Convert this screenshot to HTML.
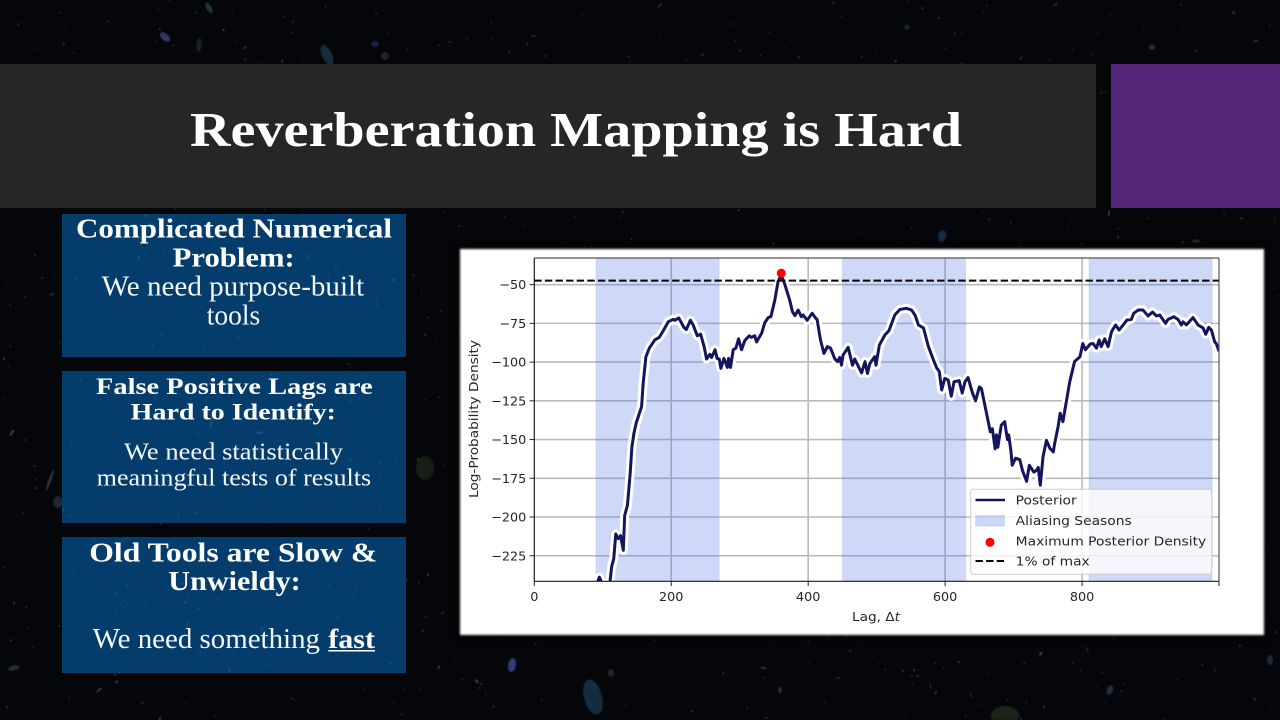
<!DOCTYPE html>
<html lang="en">
<head>
<meta charset="utf-8">
<title>Reverberation Mapping is Hard</title>
<style>
html,body{margin:0;padding:0;width:1280px;height:720px;overflow:hidden;background:#04060a;}
#slide{position:relative;width:1280px;height:720px;overflow:hidden;background:#04060a;}
#slide>*{position:absolute;}
.bar{left:0;top:64px;width:1096px;height:144px;background:#262626;}
.accent{left:1111px;top:64px;width:169px;height:144px;background:#54267a;}
.panel{left:62px;width:344px;background:rgba(4,64,112,.96);}
.paper-shadow{left:458px;top:247px;width:808px;height:390px;background:#000;filter:blur(4px);}
.paper{left:460px;top:249px;width:804px;height:386px;background:#fff;filter:blur(1px);}
svg{left:0;top:0;}
.h{font-family:"Liberation Serif",serif;font-weight:bold;fill:#fff;}
.r{font-family:"Liberation Serif",serif;fill:#f4f7fa;}
.c{font-family:"DejaVu Sans",sans-serif;fill:#262626;font-size:12.8px;}
</style>
</head>
<body>
<div id="slide">
  <svg id="starfield" width="1280" height="720" style="filter:blur(0.4px)"></svg>
  <div class="bar"></div>
  <div class="accent"></div>
  <div class="panel" style="top:214px;height:143px"></div>
  <div class="panel" style="top:371px;height:152px"></div>
  <div class="panel" style="top:537px;height:136px"></div>
  <svg id="panel-texture" width="1280" height="720" style="filter:blur(0.6px)"></svg>
  <div class="paper-shadow"></div>
  <div class="paper"></div>

  <svg width="1280" height="720">
    <text class="h" x="190" y="146" font-size="49" textLength="772" lengthAdjust="spacingAndGlyphs">Reverberation Mapping is Hard</text>

    <text class="h" x="76" y="237.5" font-size="27.5" textLength="316" lengthAdjust="spacingAndGlyphs">Complicated Numerical</text>
    <text class="h" x="172.7" y="266.5" font-size="27.5" textLength="122" lengthAdjust="spacingAndGlyphs">Problem:</text>
    <text class="r" x="101.7" y="295.5" font-size="28" textLength="262.5" lengthAdjust="spacingAndGlyphs">We need purpose-built</text>
    <text class="r" x="206.7" y="324.5" font-size="28" textLength="53.5" lengthAdjust="spacingAndGlyphs">tools</text>

    <text class="h" x="96" y="394" font-size="23.5" textLength="276.7" lengthAdjust="spacingAndGlyphs">False Positive Lags are</text>
    <text class="h" x="130.7" y="419.5" font-size="23.5" textLength="205.3" lengthAdjust="spacingAndGlyphs">Hard to Identify:</text>
    <text class="r" x="124" y="459.5" font-size="24" textLength="219" lengthAdjust="spacingAndGlyphs">We need statistically</text>
    <text class="r" x="96.7" y="485.5" font-size="24" textLength="274.5" lengthAdjust="spacingAndGlyphs">meaningful tests of results</text>

    <text class="h" x="89.3" y="561.7" font-size="27.5" textLength="288" lengthAdjust="spacingAndGlyphs">Old Tools are Slow &amp;</text>
    <text class="h" x="168.3" y="590" font-size="27.5" textLength="132.4" lengthAdjust="spacingAndGlyphs">Unwieldy:</text>
    <text class="r" x="92.7" y="647.8" font-size="28" textLength="227.3" lengthAdjust="spacingAndGlyphs">We need something</text>
    <text class="h" x="328.3" y="647.8" font-size="27.5" textLength="46.7" lengthAdjust="spacingAndGlyphs">fast</text>
    <rect x="328.3" y="650" width="46.7" height="1.5" fill="#fff"></rect>
  </svg>

  <svg id="chart" width="1280" height="720" style="filter:blur(0.3px)">
    <defs>
      <clipPath id="plot-clip"><rect x="534.3" y="258" width="684.7" height="323.3"></rect></clipPath>
    </defs>
    <g id="grid-layer"></g>
    <g id="season-layer" clip-path="url(#plot-clip)"></g>
    <g id="halo-layer" clip-path="url(#plot-clip)"></g>
    <g id="series-layer" clip-path="url(#plot-clip)"></g>
    <g id="axis-layer"></g>
    <text class="c" x="852" y="621" textLength="48" lengthAdjust="spacingAndGlyphs">Lag, Δ<tspan font-style="italic">t</tspan></text>
    <text class="c" transform="translate(478,498) rotate(-90)" textLength="158" lengthAdjust="spacingAndGlyphs">Log-Probability Density</text>

    <g>
      <rect x="970.7" y="489.3" width="241" height="85" rx="2.5" fill="#fff" fill-opacity=".8" stroke="#ccc" stroke-width="1"></rect>
      <line x1="975.5" x2="1005" y1="500" y2="500" stroke="#14145f" stroke-width="2.6"></line>
      <text class="c" x="1015.7" y="504.5" textLength="61" lengthAdjust="spacingAndGlyphs">Posterior</text>
      <rect x="975.7" y="515.7" width="28.6" height="10.3" fill="#4169e1" fill-opacity=".27" stroke="#4169e1" stroke-opacity=".2"></rect>
      <text class="c" x="1015.7" y="525" textLength="116" lengthAdjust="spacingAndGlyphs">Aliasing Seasons</text>
      <circle cx="990" cy="542.3" r="4.5" fill="#f00"></circle>
      <text class="c" x="1015.7" y="545.5" textLength="190.5" lengthAdjust="spacingAndGlyphs">Maximum Posterior Density</text>
      <line x1="975.5" x2="1005" y1="561" y2="561" stroke="#000" stroke-width="2" stroke-dasharray="7.4 3.2"></line>
      <text class="c" x="1015.7" y="565.5" textLength="74" lengthAdjust="spacingAndGlyphs">1% of max</text>
    </g>
  </svg>
</div>

<script>
var xTicks = [0, 200, 400, 600, 800, 1000];
var xTickLabels = ['0', '200', '400', '600', '800', ''];
var yTicks = [-50, -75, -100, -125, -150, -175, -200, -225];
var yTickLabels = ['\u221250', '\u221275', '\u2212100', '\u2212125', '\u2212150', '\u2212175', '\u2212200', '\u2212225'];
var seasonStarts = [90, 450, 810];
var seasonEnds = [270, 630, 990];
var maxLag = [360.7];
var maxDensity = [-42.6];
var thresholdValue = [-47.4];
var posteriorLag = [88,91,92.5,95,98,100,108,110.5,113,116,119,122.6,126,130,132,136,140,142.5,145.5,149,156.7,159,163,168,176,182.5,189,195.6,203,205,211,218.5,222,228,232,238,243,248,251.6,256.4,259,264,267,270,272.5,277,282,283.7,286.6,290.5,294.4,298.3,302.7,307.5,314,317,322,324.6,332,336.7,341.6,345.5,351.3,356,360.6,366,373,377,380.5,385.4,390,392.7,398.5,405.8,411,413,418,423,428,432.7,439,443,446,448.7,451,458.4,464.7,468,478,483,486.6,490,497.3,499,504,512,518,526.5,534,543.6,551,556,561,568.4,575.6,583,588,591.4,595,599.5,604.5,609,613,620.5,625,629,633.5,640,644.4,650,653,660,666,669,673,675,677,682,687,691,692.9,696,698,703,709,713,719,723,729.5,733,736,739,743,748,753,758,760,765,768,772,777,782,789,797,801,805,812,816,821,825,828,833,838,843,849,854,860,865.6,872,875.4,882,889,896.4,903,908.5,913.4,922,925.5,934,940,945,947.5,952.4,962,969.4,976.7,980.6,985,988.9,993.7,996,1000];
var posteriorValue = [-262,-250,-242,-238.8,-242,-250,-250,-242,-232,-227,-211,-214,-212,-221.5,-199,-192.5,-172,-155,-146,-139,-128.8,-113.7,-96.5,-91,-85.7,-84,-79.3,-74,-72.4,-73,-71.5,-77.6,-79,-73,-76,-83,-82,-90,-98,-95,-97,-92,-97.6,-98,-104,-97.6,-103.4,-97.6,-103.4,-92,-91,-85,-92,-86,-83,-84,-83,-87,-81.4,-74.5,-71.3,-70.7,-60,-48,-43.8,-50,-60,-67.4,-70,-66.4,-70.7,-69.6,-73,-68.5,-71.7,-72.4,-85.7,-94.4,-90,-91,-98,-99.7,-97,-102,-95.4,-90.5,-102,-98,-107,-99.7,-107.3,-101,-96.5,-102,-89,-82.5,-79.7,-69.6,-66,-65.3,-66.4,-69.6,-76,-78,-90,-98.7,-104,-106,-118,-110.5,-111.6,-122,-112.7,-112,-120,-112.7,-110,-120,-125,-116,-117,-132,-145,-143,-156,-147,-155,-140.7,-138.5,-150,-147,-157,-166.6,-162,-163,-170,-177,-166.6,-171,-170,-168,-179.5,-161,-150.5,-155.7,-158,-152.5,-141.7,-133,-138.5,-125.6,-112.7,-99.7,-96.5,-88,-92,-88.3,-88,-91,-85.7,-90,-85,-90,-80.4,-76,-79.3,-76,-72.8,-72.4,-68.5,-66.4,-66.4,-70.2,-67.7,-70.2,-69.6,-75,-72.4,-70.7,-72.4,-76,-74,-76,-71.3,-76,-78,-82,-77.6,-79.3,-87,-88,-93];

var SVGNS = 'http://www.w3.org/2000/svg';
var plot = { left: 534.3, right: 1219, top: 258, bottom: 581.3, xMin: 0, xMax: 1000, yMin: -241.5, yMax: -32.8 };
function xScale(v) { return plot.left + (v - plot.xMin) / (plot.xMax - plot.xMin) * (plot.right - plot.left); }
function yScale(v) { return plot.bottom - (v - plot.yMin) / (plot.yMax - plot.yMin) * (plot.bottom - plot.top); }
function make(tag, attrs, parent) {
  var el = document.createElementNS(SVGNS, tag);
  for (var k in attrs) el.setAttribute(k, attrs[k]);
  parent.appendChild(el);
  return el;
}
var gridLayer = document.getElementById('grid-layer');
var seasonLayer = document.getElementById('season-layer');
var haloLayer = document.getElementById('halo-layer');
var seriesLayer = document.getElementById('series-layer');
var axisLayer = document.getElementById('axis-layer');

xTicks.forEach(function (t, i) {
  var x = xScale(t);
  if (t > plot.xMin && t < plot.xMax) {
    var g = make('line', { x1: x, x2: x, y1: plot.top, y2: plot.bottom, stroke: '#bababa', 'stroke-width': 1.6 }, gridLayer);
    
    
  }
  var tick = make('line', { x1: x, x2: x, y1: plot.bottom, y2: plot.bottom + 4.7, stroke: '#222', 'stroke-width': 1 }, axisLayer);
  
  
  var label = make('text', { x: x, y: 601, 'text-anchor': 'middle', 'class': 'c' }, axisLayer);
  label.textContent = xTickLabels[i];
  
  
});

yTicks.forEach(function (t, i) {
  var y = yScale(t);
  var g = make('line', { x1: plot.left, x2: plot.right, y1: y, y2: y, stroke: '#bababa', 'stroke-width': 1.6 }, gridLayer);
  
  
  var tick = make('line', { x1: plot.left - 4.7, x2: plot.left, y1: y, y2: y, stroke: '#222', 'stroke-width': 1 }, axisLayer);
  
  
  var label = make('text', { x: plot.left - 8, y: y + 4.6, 'text-anchor': 'end', 'class': 'c' }, axisLayer);
  label.textContent = yTickLabels[i];
  
  
});

seasonStarts.forEach(function (s, i) {
  var x0 = xScale(s), x1 = xScale(seasonEnds[i]);
  var r = make('rect', { x: x0, y: plot.top, width: x1 - x0, height: plot.bottom - plot.top, fill: '#4169e1', 'fill-opacity': 0.26, stroke: '#4169e1', 'stroke-opacity': 0.12 }, seasonLayer);
  
  
});

for (var si = 1; si < posteriorLag.length; si++) {
  var seg = document.createElementNS(SVGNS, 'line');
  seg.setAttribute('x1', xScale(posteriorLag[si - 1]));
  seg.setAttribute('y1', yScale(posteriorValue[si - 1]));
  seg.setAttribute('x2', xScale(posteriorLag[si]));
  seg.setAttribute('y2', yScale(posteriorValue[si]));
  seg.setAttribute('stroke', 'white');
  seg.setAttribute('stroke-width', '9');
  seg.setAttribute('stroke-linecap', 'round');
  
  
  haloLayer.appendChild(seg);
}

var pathD = posteriorLag.map(function (l, i) {
  return (i ? 'L' : 'M') + xScale(l).toFixed(2) + ' ' + yScale(posteriorValue[i]).toFixed(2);
}).join(' ');
var curve = make('path', { d: pathD, fill: 'none', stroke: '#14145f', 'stroke-width': 3, 'stroke-linejoin': 'round' }, seriesLayer);



var dash = make('line', { x1: xScale(plot.xMin), x2: xScale(plot.xMax), y1: yScale(thresholdValue[0]), y2: yScale(thresholdValue[0]), stroke: '#000', 'stroke-width': 2, 'stroke-dasharray': '7.4 3.2' }, seriesLayer);



var peak = make('circle', { cx: xScale(maxLag[0]), cy: yScale(maxDensity[0]), r: 4.5, fill: '#f00' }, seriesLayer);



[['M', plot.left, plot.top, plot.left, plot.bottom, '#1c1c1c'],
 ['M', plot.left, plot.bottom, plot.right, plot.bottom, '#1c1c1c'],
 ['M', plot.left, plot.top, plot.right, plot.top, '#555'],
 ['M', plot.right, plot.top, plot.right, plot.bottom, '#555']].forEach(function (s) {
  var sp = make('line', { x1: s[1], y1: s[2], x2: s[3], y2: s[4], stroke: s[5], 'stroke-width': 1.2 }, axisLayer);
  
  
});

/* Decorative background, not chart data */
var field = document.getElementById('starfield');
var seed = 12345;
function rnd() { seed = (seed * 16807) % 2147483647; return seed / 2147483647; }
var specks = '';
var tints = ['#343d4c', '#2a3442', '#3f4858', '#26344c', '#4a5260'];
for (var n = 0; n < 1100; n++) {
  var sx = rnd() * 1280, sy = rnd() * 720, sr = 0.4 + rnd() * 0.6;
  var sl = rnd() > 0.9 ? 1.5 + rnd() * 2.5 : sr;
  specks += '<ellipse cx="' + sx.toFixed(1) + '" cy="' + sy.toFixed(1) + '" rx="' + sl.toFixed(1) + '" ry="' + sr.toFixed(1) +
    '" fill="' + tints[n % 5] + '" transform="rotate(' + Math.round(rnd() * 180) + ' ' + sx.toFixed(1) + ' ' + sy.toFixed(1) + ')"></ellipse>';
}
var blobs = [
  [512, 665, 4, 7, 10, '#2f3c78'], [593, 697, 9, 18, -15, '#152c40'], [611, 673, 3, 4, 0, '#20252c'],
  [1005, 716, 14, 10, 0, '#1a2418'], [425, 468, 9, 12, 0, '#181e16'], [165, 37, 6, 3.5, 40, '#2c3958'],
  [209, 8, 2.5, 6, -30, '#1d363c'], [327, 55, 5, 11, -25, '#162c38'], [199, 45, 2.5, 7, 5, '#1b222c'],
  [385, 56, 4, 4, 0, '#26231e'], [375, 44, 4, 3, 0, '#172244'], [942, 236, 4, 6, 10, '#162a46'],
  [1152, 47, 3, 3, 0, '#222c40'], [907, 27, 3, 2.5, 0, '#162436'], [58, 502, 5, 6, 0, '#20272f'],
  [50, 480, 1.5, 11, 20, '#2c343e'], [1196, 241, 4, 1.5, 0, '#2c2e34'], [1270, 660, 3, 5, 0, '#1c2c3a'],
  [780, 690, 1.5, 3.5, 0, '#2c343e'], [1110, 690, 3, 5, 20, '#202e3e'], [14, 668, 6, 2.5, -15, '#242c36']
];
blobs.forEach(function (b) {
  specks += '<ellipse cx="' + b[0] + '" cy="' + b[1] + '" rx="' + b[2] + '" ry="' + b[3] + '" fill="' + b[5] +
    '" transform="rotate(' + b[4] + ' ' + b[0] + ' ' + b[1] + ')"></ellipse>';
});
field.innerHTML = specks;

var texture = document.getElementById('panel-texture');
var panelRows = [[214, 143], [371, 152], [537, 136]];
var marks = '';
panelRows.forEach(function (p) {
  for (var m = 0; m < 45; m++) {
    var px = 62 + rnd() * 344, py = p[0] + rnd() * p[1];
    var rl = 0.6 + rnd() * (m % 6 === 0 ? 5 : 1.2), rs = 0.5 + rnd() * 0.8;
    marks += '<ellipse cx="' + px.toFixed(1) + '" cy="' + py.toFixed(1) + '" rx="' + rl.toFixed(1) + '" ry="' + rs.toFixed(1) +
      '" fill="#5f9cc8" fill-opacity=".22" transform="rotate(' + Math.round(rnd() * 180) + ' ' + px.toFixed(1) + ' ' + py.toFixed(1) + ')"></ellipse>';
  }
});
texture.innerHTML = marks;
</script>
</body>
</html>
